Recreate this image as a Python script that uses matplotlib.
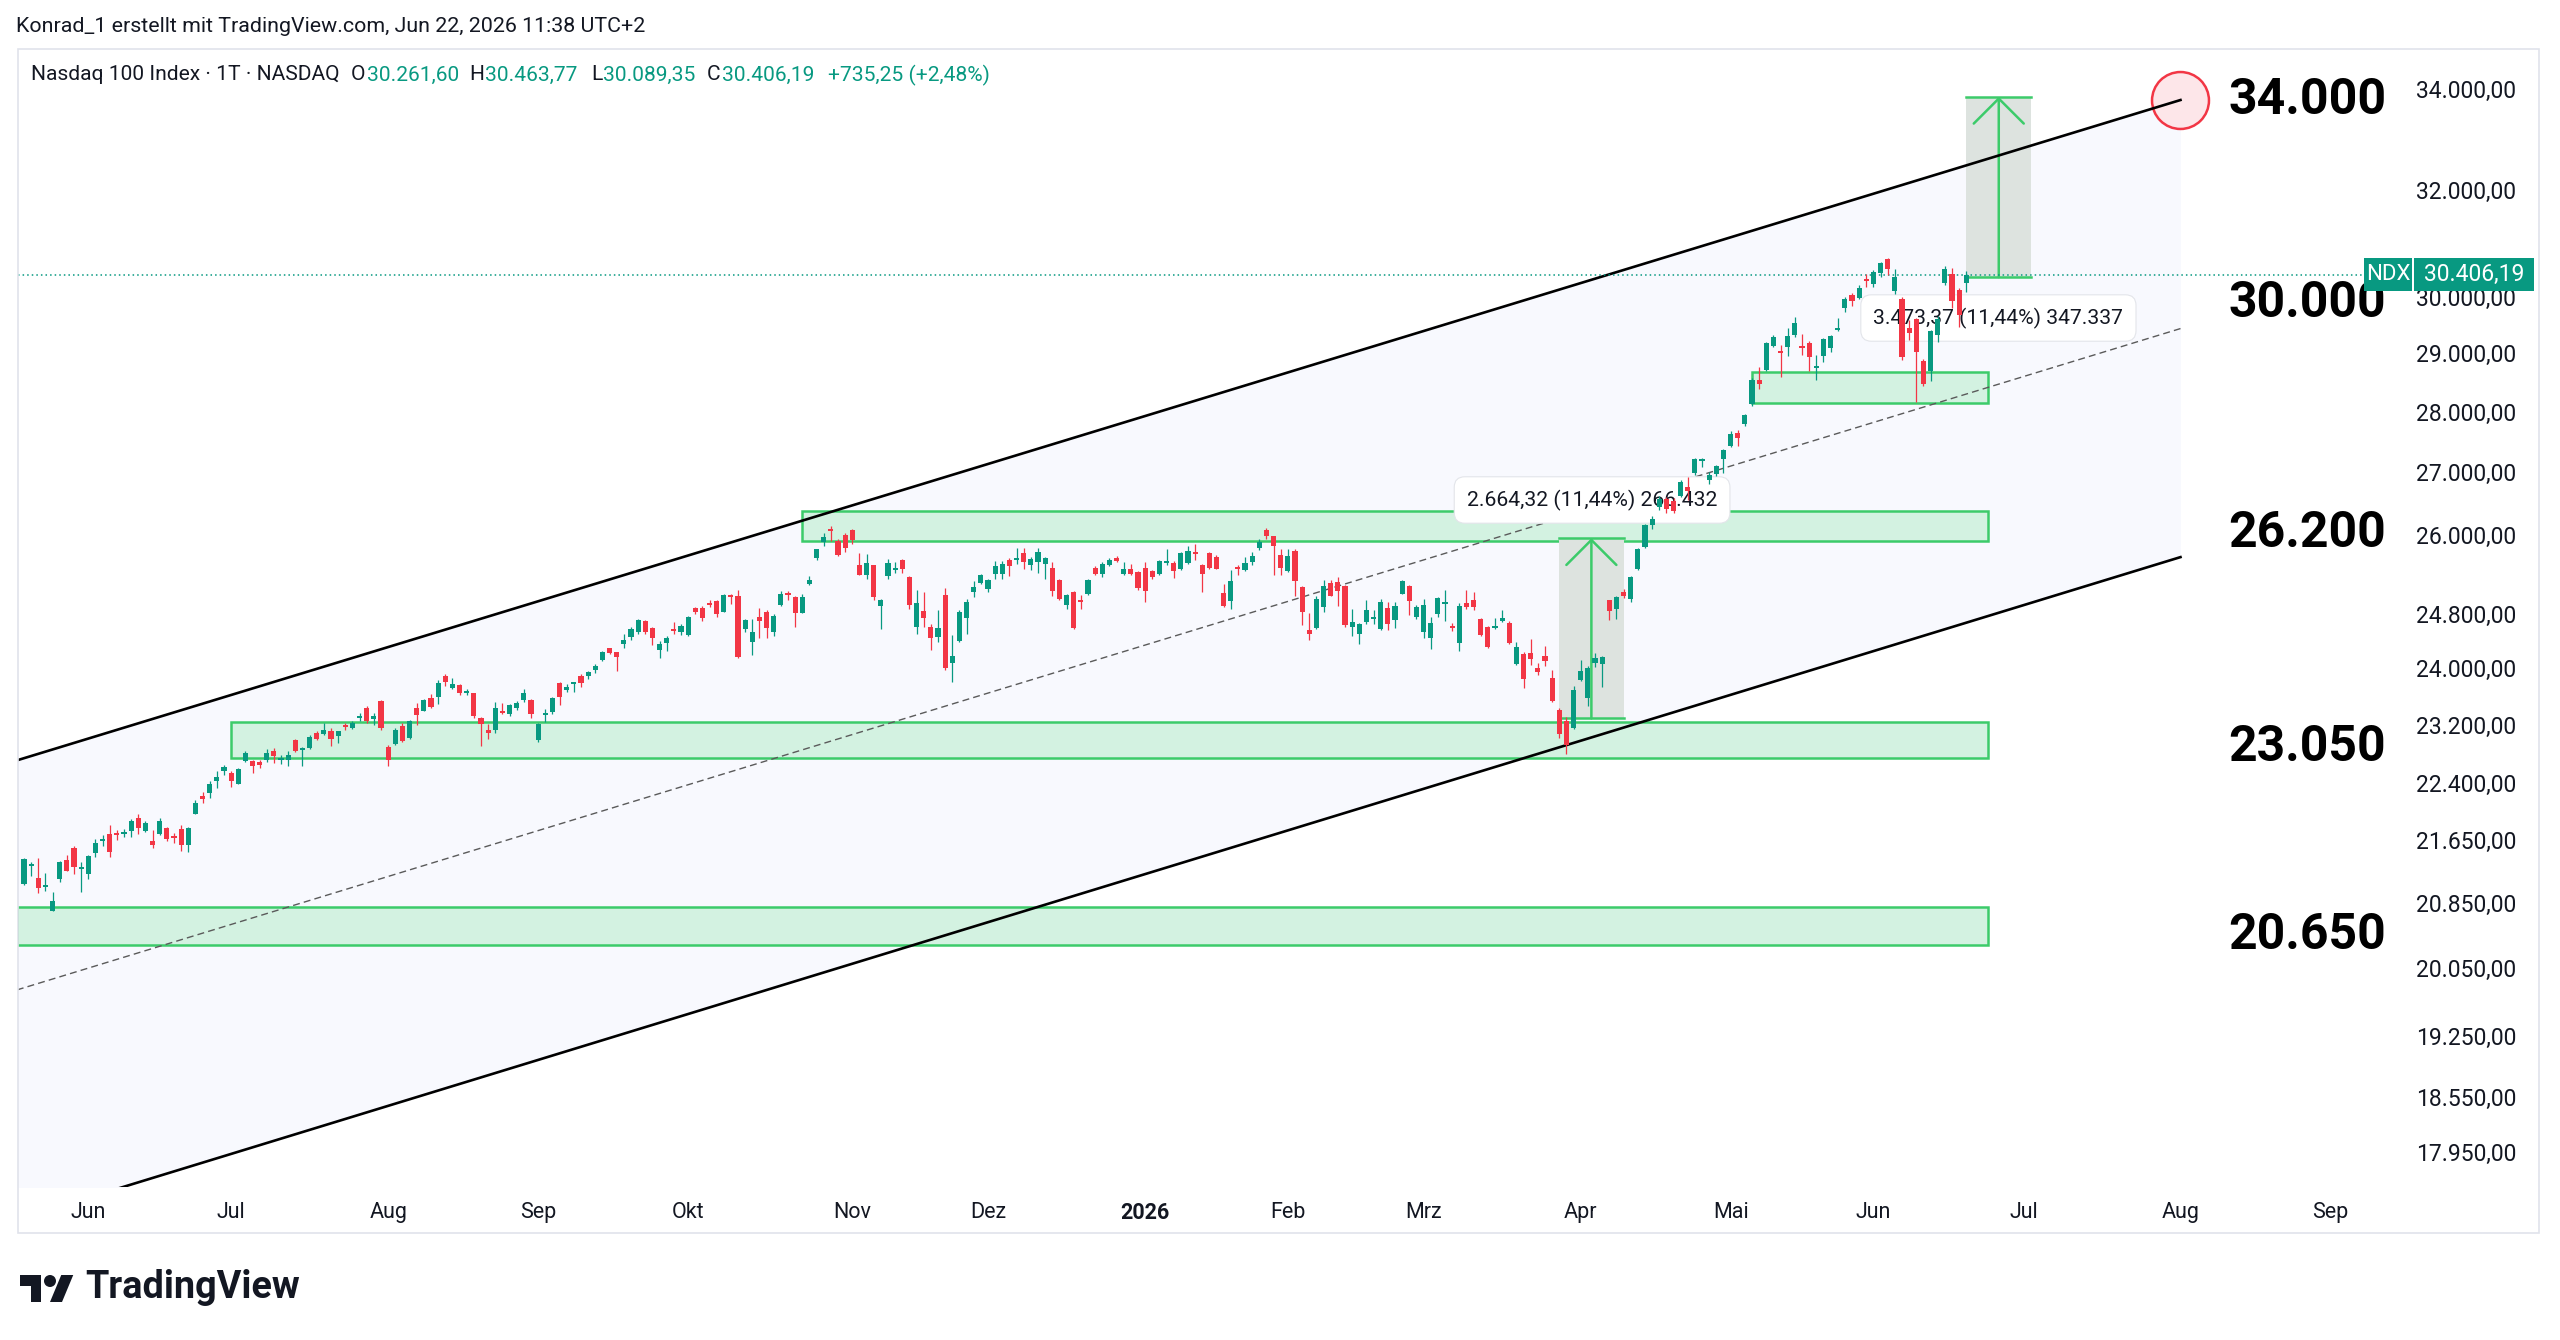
import numpy as np
import pandas as pd
import matplotlib
matplotlib.use('Agg')
import matplotlib.pyplot as plt
from matplotlib import font_manager
from matplotlib.patches import Rectangle, Polygon, Circle
from matplotlib.ticker import FixedLocator, NullLocator, FixedFormatter

# --- DATEN ---
FIRST_DAY = '2025-05-19'
LAST_AXIS_DAY = '2026-09-30'
HOLIDAYS = ['2025-05-26', '2025-06-19', '2025-07-04', '2025-09-01', '2025-11-27', '2025-12-25',
            '2026-01-01', '2026-01-19', '2026-02-16', '2026-04-03', '2026-05-25', '2026-06-19',
            '2026-07-03', '2026-09-07']

opens = [
    21080, 21310, 21165, 21045, 20750, 21150, 21395, 21550, 21275, 21215,
    21480, 21640, 21730, 21735, 21725, 21760, 21935, 21770, 21630, 21725,
    21800, 21690, 21790, 21580, 21995, 22230, 22270, 22425, 22560, 22535,
    22395, 22700, 22700, 22685, 22720, 22845, 22712, 22720, 22985, 22850,
    22875, 23090, 23075, 23120, 23045, 23190, 23150, 23297, 23430, 23288,
    23530, 22890, 22930, 23180, 23020, 23430, 23400, 23575, 23595, 23890,
    23725, 23765, 23645, 23645, 23298, 23125, 23122, 23400, 23352, 23430,
    23545, 23555, 22990, 23334, 23375, 23795, 23697, 23774, 23890, 23890,
    23976, 24120, 24290, 24237, 24358, 24460, 24534, 24700, 24595, 24270,
    24365, 24570, 24534, 24480, 24885, 24880, 24955, 24985, 24835, 25087,
    25070, 24570, 24387, 24754, 24830, 24534, 24935, 25118, 25046, 24820,
    25250, 25650, 25892, 26091, 25905, 26010, 26075, 25535, 25380, 25535,
    24920, 25371, 25458, 25620, 25355, 24610, 24845, 24605, 24456, 25080,
    24081, 24397, 24735, 25125, 25264, 25178, 25397, 25397, 25620, 25610,
    25728, 25534, 25585, 25560, 25494, 25316, 24930, 25135, 25000, 25098,
    25500, 25397, 25545, 25647, 25408, 25475, 25424, 25494, 25443, 25408,
    25570, 25575, 25470, 25570, 25738, 25534, 25728, 25660, 25106, 24990,
    25505, 25458, 25585, 25794, 26075, 25985, 25695, 25443, 25760, 25200,
    24560, 24585, 24905, 25266, 25275, 25215, 24610, 24505, 24680, 24718,
    24578, 24885, 24707, 25098, 25225, 24754, 24534, 24450, 24795, 24945,
    24605, 24373, 24955, 25005, 24728, 24610, 24585, 24700, 24665, 24057,
    24210, 24225, 24003, 24187, 23860, 23414, 23260, 23150, 23832, 23573,
    24080, 24057, 25000, 24870, 25125, 25020, 25470, 25810, 26160, 26450,
    26578, 26540, 26620, 26765, 26995, 27180, 26880, 26970, 27225, 27425,
    27648, 27800, 28130, 28540, 28710, 29130, 29030, 29105, 29325, 29130,
    29190, 28750, 28960, 29090, 29410, 29800, 30035, 29980, 30310, 30238,
    30432, 30690, 30100, 29960, 29440, 29600, 28870, 28690, 29325, 30250,
    30420, 30130, 30261.60]

highs = [
    21410, 21360, 21420, 21220, 20985, 21380, 21460, 21565, 21370, 21460,
    21665, 21720, 21845, 21780, 21795, 21925, 21990, 21895, 21780, 21935,
    21820, 21740, 21850, 21825, 22180, 22280, 22425, 22560, 22645, 22565,
    22605, 22845, 22720, 22720, 22860, 22875, 22790, 22835, 23000, 22890,
    23055, 23120, 23230, 23150, 23120, 23225, 23255, 23365, 23460, 23365,
    23545, 22920, 23150, 23225, 23265, 23500, 23565, 23640, 23830, 23915,
    23860, 23775, 23700, 23655, 23306, 23205, 23520, 23510, 23490, 23540,
    23700, 23565, 23220, 23420, 23595, 23810, 23770, 23800, 23915, 23970,
    24060, 24250, 24300, 24240, 24495, 24600, 24725, 24715, 24605, 24405,
    24470, 24680, 24650, 24770, 24900, 24910, 25000, 25000, 25100, 25100,
    25160, 24720, 24720, 24885, 24860, 24795, 25140, 25140, 25072, 25090,
    25370, 25790, 26030, 26140, 25940, 26030, 26090, 25720, 25710, 25540,
    25020, 25625, 25590, 25625, 25365, 25160, 25135, 24645, 24855, 25190,
    24482, 24855, 25020, 25290, 25408, 25330, 25600, 25600, 25640, 25800,
    25800, 25660, 25808, 25660, 25590, 25330, 25100, 25150, 25075, 25320,
    25520, 25580, 25650, 25680, 25580, 25550, 25440, 25580, 25460, 25620,
    25790, 25600, 25745, 25830, 25860, 25560, 25745, 25690, 25250, 25460,
    25534, 25660, 25740, 25945, 26120, 25995, 25790, 25790, 25786, 25225,
    24820, 25072, 25305, 25305, 25350, 25240, 24870, 24665, 25010, 24850,
    25020, 24970, 24970, 25305, 25235, 24930, 25020, 24755, 25050, 25160,
    24665, 24955, 25165, 25130, 24745, 24620, 24740, 24855, 24700, 24380,
    24235, 24425, 24080, 24320, 23980, 23440, 23306, 23750, 24125, 24040,
    24225, 24180, 25010, 25060, 25180, 25370, 25800, 26170, 26300, 26620,
    26600, 26580, 26880, 26920, 27240, 27230, 27010, 27120, 27390, 27680,
    27690, 27970, 28570, 28770, 29205, 29320, 29150, 29440, 29640, 29340,
    29210, 28980, 29265, 29320, 29620, 30000, 30080, 30220, 30420, 30500,
    30630, 30710, 30510, 30000, 29580, 29620, 28900, 29420, 29660, 30560,
    30530, 30160, 30463.77]

lows = [
    21070, 21190, 20965, 20990, 20740, 21115, 21245, 21215, 20985, 21150,
    21435, 21565, 21425, 21650, 21685, 21685, 21725, 21750, 21550, 21715,
    21640, 21610, 21510, 21490, 21985, 22140, 22200, 22335, 22510, 22345,
    22390, 22690, 22540, 22600, 22690, 22675, 22655, 22630, 22830, 22630,
    22860, 22985, 23065, 22905, 22950, 23125, 23140, 23250, 23225, 23200,
    23130, 22630, 22920, 22960, 23010, 23200, 23395, 23440, 23490, 23750,
    23705, 23620, 23620, 23295, 22905, 23010, 23090, 23350, 23330, 23405,
    23520, 23290, 22960, 23245, 23345, 23480, 23660, 23660, 23735, 23855,
    23940, 24110, 24205, 23960, 24300, 24415, 24505, 24500, 24340, 24145,
    24255, 24505, 24480, 24475, 24800, 24700, 24900, 24750, 24830, 24945,
    24150, 24530, 24200, 24450, 24450, 24475, 24915, 25000, 24605, 24810,
    25240, 25610, 25830, 25915, 25680, 25740, 25860, 25380, 25330, 25000,
    24570, 25330, 25410, 25410, 24870, 24497, 24610, 24265, 24387, 23980,
    23810, 24390, 24497, 25050, 25250, 25125, 25330, 25330, 25370, 25560,
    25470, 25460, 25420, 25330, 25070, 25000, 24870, 24580, 24870, 25080,
    25390, 25360, 25530, 25590, 25390, 25390, 25160, 24980, 25330, 25390,
    25540, 25340, 25460, 25560, 25610, 25130, 25480, 25470, 24905, 24865,
    25390, 25445, 25540, 25765, 25945, 25380, 25390, 25430, 25072, 24633,
    24412, 24570, 24830, 25060, 24920, 24600, 24470, 24355, 24650, 24650,
    24565, 24565, 24590, 25090, 24785, 24720, 24440, 24280, 24750, 24700,
    24550, 24255, 24870, 24860, 24475, 24290, 24570, 24680, 24360, 24050,
    23715, 24045, 23900, 24030, 23525, 23020, 22800, 23140, 23820, 23460,
    24020, 23733, 24707, 24720, 25040, 24980, 25460, 25800, 26100, 26400,
    26350, 26350, 26600, 26560, 26960, 27090, 26820, 26940, 26995, 27410,
    27430, 27770, 28100, 28390, 28690, 29110, 28600, 28960, 29290, 28970,
    28690, 28535, 28860, 29030, 29400, 29740, 29845, 29960, 30190, 30190,
    30360, 30400, 30060, 28880, 29240, 28160, 28430, 28520, 29200, 30220,
    29810, 29460, 30089.35]

closes = [
    21400, 21330, 21030, 21060, 20875, 21365, 21255, 21305, 21290, 21445,
    21615, 21665, 21490, 21710, 21755, 21895, 21805, 21865, 21580, 21895,
    21660, 21670, 21580, 21805, 22140, 22185, 22390, 22480, 22615, 22425,
    22595, 22810, 22635, 22645, 22810, 22770, 22730, 22790, 22840, 22865,
    23030, 23010, 23125, 23005, 23110, 23170, 23225, 23316, 23250, 23306,
    23160, 22710, 23135, 22975, 23250, 23335, 23555, 23455, 23785, 23810,
    23780, 23655, 23662, 23330, 23205, 23080, 23440, 23365, 23474, 23510,
    23650, 23350, 23210, 23357, 23580, 23595, 23716, 23792, 23795, 23945,
    24034, 24237, 24218, 24170, 24412, 24570, 24705, 24530, 24437, 24355,
    24450, 24545, 24620, 24755, 24835, 24735, 24935, 24795, 25085, 25056,
    24160, 24705, 24530, 24694, 24585, 24770, 25098, 25087, 24820, 25056,
    25316, 25778, 25970, 26066, 25685, 25800, 25920, 25380, 25575, 25056,
    25010, 25575, 25494, 25470, 24930, 24955, 24745, 24437, 24585, 24010,
    24187, 24830, 24970, 25200, 25392, 25305, 25518, 25560, 25523, 25647,
    25585, 25638, 25744, 25647, 25150, 25020, 25082, 24595, 24980, 25305,
    25408, 25550, 25622, 25600, 25485, 25408, 25186, 25150, 25355, 25596,
    25600, 25447, 25728, 25754, 25707, 25408, 25500, 25485, 24920, 25288,
    25479, 25570, 25673, 25892, 25980, 25826, 25494, 25684, 25288, 24835,
    24497, 25020, 25225, 25072, 25150, 24633, 24680, 24650, 24855, 24744,
    24970, 24650, 24920, 25288, 24985, 24905, 24935, 24665, 25035, 24970,
    24585, 24920, 24905, 24905, 24485, 24310, 24605, 24728, 24373, 24310,
    23845, 24137, 23955, 24105, 23532, 23075, 22918, 23690, 23970, 24010,
    24150, 24160, 24846, 25046, 25072, 25350, 25786, 26153, 26253, 26578,
    26410, 26380, 26845, 26700, 27210, 27210, 26953, 27105, 27370, 27630,
    27565, 27940, 28540, 28465, 29175, 29280, 29000, 29300, 29530, 29090,
    28945, 28780, 29245, 29300, 29440, 29960, 29935, 30157, 30292, 30462,
    30617, 30510, 30360, 28930, 29355, 29030, 28470, 29395, 29600, 30510,
    29920, 29671, 30406.19]

change_text = '+735,25 (+2,48%)'

y_ticks = [17950, 18550, 19250, 20050, 20850, 21650, 22400, 23200, 24000, 24800,
           26000, 27000, 28000, 29000, 30000, 32000, 34000]
month_names = {2: 'Feb', 3: 'Mrz', 4: 'Apr', 5: 'Mai', 6: 'Jun', 7: 'Jul',
               8: 'Aug', 9: 'Sep', 10: 'Okt', 11: 'Nov', 12: 'Dez'}

# Unterstuetzungszonen (Bar-Index von/bis, Preis von/bis)
zone_x0 = [108.9, 29.0, -1.0, 242.0]
zone_x1 = [275.1, 275.1, 275.1, 275.1]
zone_lo = [25915, 22737, 20320, 28143]
zone_hi = [26385, 23235, 20797, 28672]

# Parallelkanal (Bar-Index, oben, unten)
chan_x = [-1, 302]
chan_upper = [22710, 33770]
chan_lower = [17235, 25660]

# Price-Range-Werkzeuge
range_x0 = [215.0, 272.0]
range_x1 = [224.0, 281.1]
range_lo = [23289.3, 30362.0]
range_hi = [25953.6, 33835.4]
range_text = ['2.664,32 (11,44%) 266.432', '3.473,37 (11,44%) 347.337']
range_lbl_x = [219.6, 276.5]
range_lbl_y = [26556, 29624]

# Kursziele
target_text = ['34.000', '30.000', '26.200', '23.050', '20.650']
target_price = [33750, 29875, 26030, 22880, 20440]
target_x = 308.7

# --- STIL ---
W, H = 2560, 1340
DARK = '#131722'
TEAL = '#089981'
UP = '#089981'
DOWN = '#f23645'
ZONE_EDGE = '#3ccb6a'
ZONE_FILL = '#d3f2e1'

names = {f.name for f in font_manager.fontManager.ttflist}
UI = 'Roboto' if 'Roboto' in names else 'DejaVu Sans'
plt.rcParams['font.family'] = [UI, 'DejaVu Sans']


def de_num(v):
    s = f"{v:,.2f}"
    return s.replace(',', 'X').replace('.', ',').replace('X', '.')


fig = plt.figure(figsize=(W / 100, H / 100), dpi=100, facecolor='white')
renderer = fig.canvas.get_renderer()


def fit(t, width_px):
    w = t.get_window_extent(renderer).width
    t.set_fontsize(t.get_fontsize() * width_px / w)
    return t


def ftext(px, py, s, **kw):
    return fig.text(px / W, 1 - py / H, s, va='center', ha=kw.pop('ha', 'left'), **kw)


ax = fig.add_axes([18 / W, 1 - 1187 / H, (2394 - 18) / W, (1187 - 49) / H])
ax.set_facecolor('white')
ax.set_yscale('log')
ax.set_xlim(-0.84, 331.9)
ax.set_ylim(17575, 34821)
for s in ax.spines.values():
    s.set_visible(False)

# Kanal
ax.fill_between(chan_x, chan_lower, chan_upper, color='#f8f9fe', lw=0, zorder=1)
ax.plot(chan_x, chan_upper, color='black', lw=1.9, zorder=3)
ax.plot(chan_x, chan_lower, color='black', lw=1.9, zorder=3)
mid = np.sqrt(np.array(chan_upper) * np.array(chan_lower))
ax.plot(chan_x, mid, color='#5a5a5a', lw=1.0, ls=(0, (5, 3)), zorder=3)

# Zonen
for x0, x1, lo, hi in zip(zone_x0, zone_x1, zone_lo, zone_hi):
    ax.add_patch(Rectangle((x0, lo), x1 - x0, hi - lo, facecolor=ZONE_FILL,
                           edgecolor=ZONE_EDGE, lw=1.8, zorder=2))

# Price Range
for x0, x1, lo, hi in zip(range_x0, range_x1, range_lo, range_hi):
    ax.add_patch(Rectangle((x0, lo), x1 - x0, hi - lo, facecolor='#dde3df', lw=0, zorder=2.2))
    ax.plot([x0, x1], [lo, lo], color=ZONE_EDGE, lw=1.8, zorder=2.3)
    ax.plot([x0, x1], [hi, hi], color=ZONE_EDGE, lw=1.8, zorder=2.3)
    xm = (x0 + x1) / 2
    ax.annotate('', xy=(xm, hi), xytext=(xm, lo), zorder=2.4,
                arrowprops=dict(arrowstyle='->,head_length=1.8,head_width=1.8',
                                color=ZONE_EDGE, lw=1.8, shrinkA=0, shrinkB=0,
                                mutation_scale=10))

for lx, ly, s in zip(range_lbl_x, range_lbl_y, range_text):
    t = ax.text(lx, ly, s, ha='center', va='center', fontsize=16, color=DARK, zorder=4,
                bbox=dict(boxstyle='round,pad=0.6,rounding_size=0.5', fc='white',
                          ec='#e3e5ea', lw=0.8))
    fit(t, 250)

# Zielkreis
ax.plot([chan_x[1]], [chan_upper[1]], marker='o', ms=41, mfc='#fde6e9', mec=DOWN,
        mew=1.8, zorder=2.8)

# Kerzen
o = np.array(opens, dtype=float)
h = np.array(highs, dtype=float)
l = np.array(lows, dtype=float)
c = np.array(closes, dtype=float)
x = np.arange(len(c))
col = np.where(c >= o, UP, DOWN)
ax.vlines(x, l, h, colors=col, lw=0.9, zorder=5)
bot = np.minimum(o, c)
ht = np.maximum(np.abs(c - o), bot * 0.0013)
ax.bar(x, ht, bottom=bot, width=0.72, color=col, lw=0, zorder=5)

# Letzter Kurs
ax.axhline(c[-1], color=TEAL, lw=1.1, ls=(0, (1, 2)), zorder=4)

# Kursziel-Texte
for s, p in zip(target_text, target_price):
    t = ax.text(target_x, p, s, ha='left', va='center', fontsize=36,
                fontweight='bold', color='black', zorder=6)
    fit(t, 158)

# Achsen
days = pd.bdate_range(FIRST_DAY, LAST_AXIS_DAY)
days = days[~days.isin(pd.to_datetime(HOLIDAYS))]
tick_idx, tick_lbl = [], []
for i in range(1, len(days)):
    if days[i].month != days[i - 1].month:
        tick_idx.append(i)
        tick_lbl.append(str(days[i].year) if days[i].month == 1 else month_names[days[i].month])

ax.yaxis.tick_right()
ax.yaxis.set_major_locator(FixedLocator(y_ticks))
ax.yaxis.set_minor_locator(NullLocator())
ax.yaxis.set_major_formatter(FixedFormatter([de_num(v) for v in y_ticks]))
ax.tick_params(axis='y', length=0, pad=16, labelsize=16.5, labelcolor=DARK)
ax.set_xticks(tick_idx)
ax.set_xticklabels(tick_lbl)
ax.tick_params(axis='x', length=0, pad=11, labelsize=15.5, labelcolor=DARK)
for t in ax.get_xticklabels():
    if t.get_text().isdigit():
        t.set_fontweight('bold')

# NDX Kurslabel
y_disp = ax.transData.transform((0, c[-1]))[1]
ypx = H - y_disp
fig.add_artist(Rectangle((2364 / W, (y_disp - 16.5) / H), 48 / W, 33 / H,
                         transform=fig.transFigure, fc=TEAL, ec='none', zorder=10))
fig.add_artist(Rectangle((2414 / W, (y_disp - 16.5) / H), 120 / W, 33 / H,
                         transform=fig.transFigure, fc=TEAL, ec='none', zorder=10))
ftext(2388, ypx, 'NDX', ha='center', color='white', fontsize=16, zorder=11)
ftext(2474, ypx, de_num(c[-1]), ha='center', color='white', fontsize=16.5, zorder=11)

# Rahmen
fig.add_artist(Rectangle((18 / W, 1 - 1233 / H), (2539 - 18) / W, (1233 - 49) / H,
                         transform=fig.transFigure, fill=False, ec='#e0e3eb', lw=1.2, zorder=9))

# Kopfzeile
fit(ftext(16, 26, 'Konrad_1 erstellt mit TradingView.com, Jun 22, 2026 11:38 UTC+2',
          fontsize=15, color=DARK), 631)
title = fit(ftext(31, 75, 'Nasdaq 100 Index · 1T · NASDAQ', fontsize=15, color=DARK), 309)
fs = title.get_fontsize()
for px, letter, val in [(351, 'O', opens[-1]), (469, 'H', highs[-1]),
                        (591, 'L', lows[-1]), (707, 'C', closes[-1])]:
    lt = ftext(px, 75, letter, fontsize=fs, color=DARK)
    lw_ = lt.get_window_extent(renderer).width
    ftext(px + lw_ + 1, 75, de_num(val), fontsize=fs, color=TEAL)
ftext(828, 75, change_text, fontsize=fs, color=TEAL)

# TradingView Logo
def lp(u, v):
    return ((20 + 1.5 * u) / W, 1 - (1275 + 1.5 * (v - 4)) / H)


fig.add_artist(Polygon([lp(14, 22), lp(7, 22), lp(7, 11), lp(0, 11), lp(0, 4), lp(14, 4)],
                       closed=True, transform=fig.transFigure, fc=DARK, ec='none'))
fig.add_artist(Polygon([lp(28, 22), lp(20, 22), lp(27.5, 4), lp(35.5, 4)],
                       closed=True, transform=fig.transFigure, fc=DARK, ec='none'))
cx, cy = lp(20, 8)
fig.add_artist(Circle((cx * W, cy * H), 6, transform=None, fc=DARK, ec='none'))
fit(ftext(85, 1288, 'TradingView', fontsize=26, fontweight='bold', color=DARK), 215)

fig.savefig('out.png', dpi=100, facecolor='white')
